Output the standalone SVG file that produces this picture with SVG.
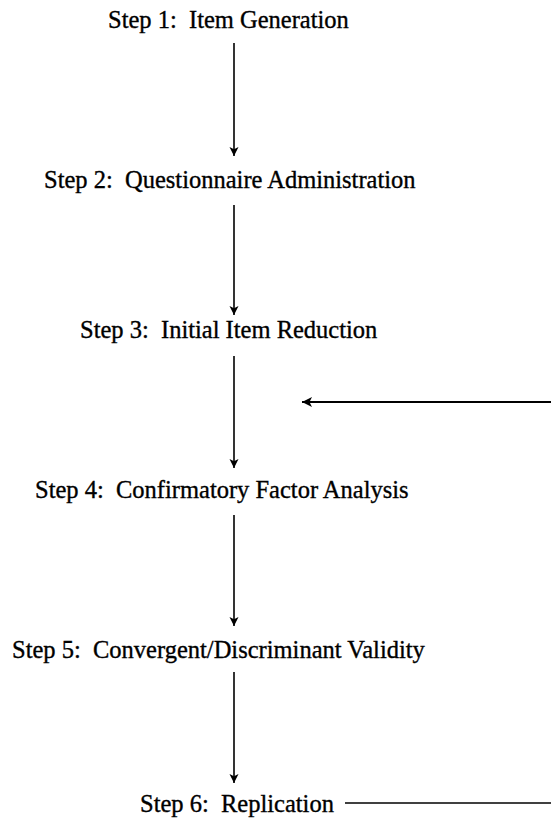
<svg xmlns="http://www.w3.org/2000/svg" width="551" height="821" viewBox="0 0 551 821" xml:space="preserve">
<style>
text{font-family:"Liberation Serif","Times New Roman",serif;font-size:24.5px;fill:#000;stroke:#000;stroke-width:0.35;white-space:pre}
.c{stroke:#000;stroke-width:1.6;fill:none}
.f{stroke:#000;stroke-width:2.2;fill:none}
</style>
<defs>
<marker id="ah" viewBox="0 0 10 10" refX="10" refY="5" markerWidth="9" markerHeight="12" markerUnits="userSpaceOnUse" orient="auto">
<path d="M0,0 L10,5 L0,10 L2.5,5 z" fill="#000"/>
</marker>
<marker id="ah2" viewBox="0 0 10 10" refX="10" refY="5" markerWidth="10" markerHeight="12" markerUnits="userSpaceOnUse" orient="auto">
<path d="M0,0 L10,5 L0,10 L2.5,5 z" fill="#000"/>
</marker>
</defs>
<rect width="551" height="821" fill="#fff"/>
<g id="step1"><text x="108" y="28">Step 1:  Item Generation</text></g>
<g id="step2"><text x="44" y="188">Step 2:  Questionnaire Administration</text></g>
<g id="step3"><text x="80" y="338">Step 3:  Initial Item Reduction</text></g>
<g id="step4"><text x="35" y="498">Step 4:  Confirmatory Factor Analysis</text></g>
<g id="step5"><text x="12" y="658">Step 5:  Convergent/Discriminant Validity</text></g>
<g id="step6"><text x="140" y="812">Step 6:  Replication</text></g>
<g id="connectors">
<line class="c" x1="234" y1="43" x2="234" y2="156" marker-end="url(#ah)"/>
<line class="c" x1="234" y1="205" x2="234" y2="315" marker-end="url(#ah)"/>
<line class="c" x1="234" y1="356" x2="234" y2="468" marker-end="url(#ah)"/>
<line class="c" x1="234" y1="515" x2="234" y2="626" marker-end="url(#ah)"/>
<line class="c" x1="234" y1="672" x2="234" y2="783" marker-end="url(#ah)"/>
<line class="f" x1="551" y1="402" x2="302" y2="402" marker-end="url(#ah2)"/>
<line class="c" x1="345" y1="803" x2="551" y2="803"/>
</g>
</svg>
